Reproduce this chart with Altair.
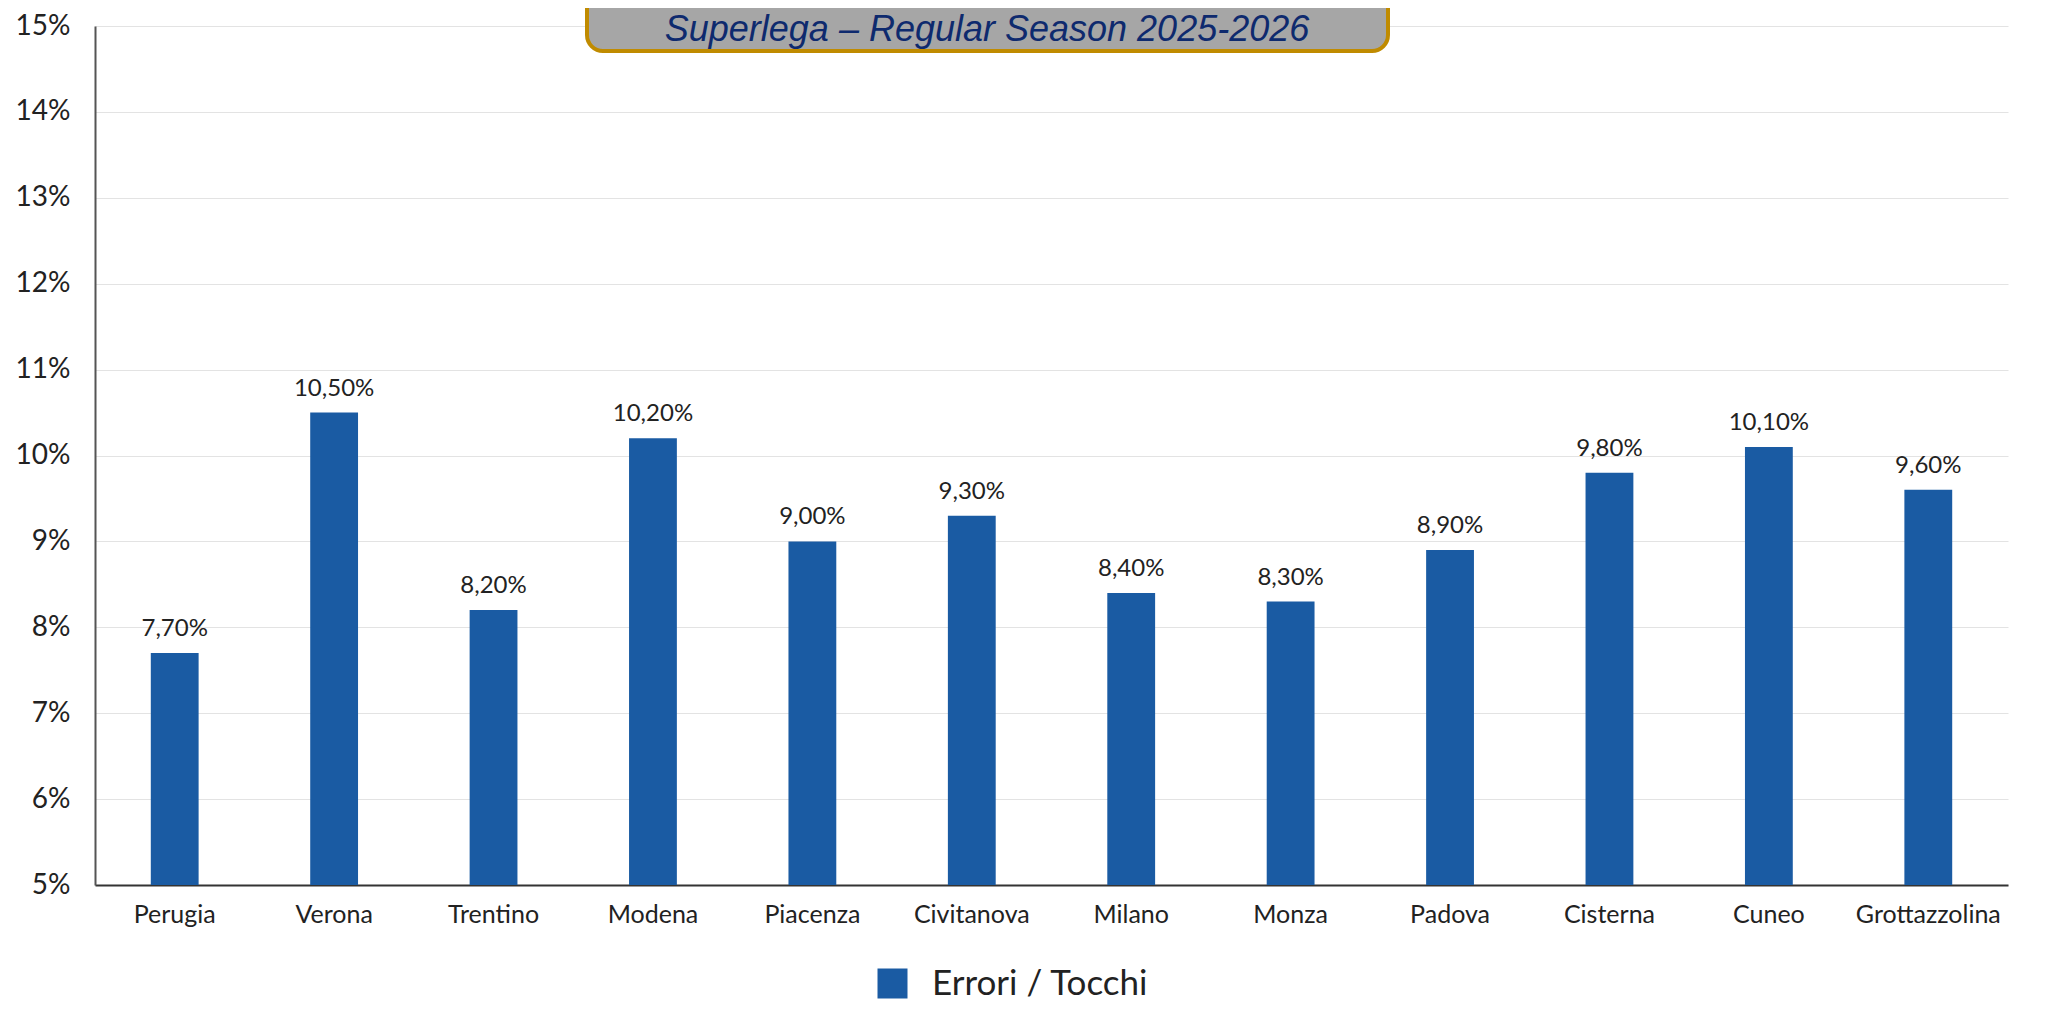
import altair as alt
import pandas as pd

teams = ["Perugia", "Verona", "Trentino", "Modena", "Piacenza", "Civitanova",
         "Milano", "Monza", "Padova", "Cisterna", "Cuneo", "Grottazzolina"]
values = [7.7, 10.5, 8.2, 10.2, 9.0, 9.3, 8.4, 8.3, 8.9, 9.8, 10.1, 9.6]
series_name = "Errori / Tocchi"
title_text = "Superlega – Regular Season 2025-2026"
y_ticks = [5, 6, 7, 8, 9, 10, 11, 12, 13, 14, 15]

df = pd.DataFrame({
    "team": teams,
    "value": values,
    "label": [f"{v:.2f}".replace(".", ",") + "%" for v in values],
    "series": [series_name] * len(teams),
})

W, H = 1913, 859
FONT = "Lato"
BLUE = "#1A5BA3"

x_enc = alt.X("team:N", sort=teams,
              scale=alt.Scale(paddingInner=0.7, paddingOuter=0.35),
              axis=alt.Axis(title=None, labelAngle=0, ticks=False, labelPadding=17,
                            labelFontSize=25, labelFont=FONT, labelColor="#222222",
                            domainColor="#333333", domainWidth=2, grid=False))
y_enc = alt.Y("value:Q",
              scale=alt.Scale(domain=[5, 15], nice=False, zero=False),
              axis=alt.Axis(title=None, values=y_ticks, labelExpr="datum.value + '%'",
                            ticks=False, labelPadding=25, labelFontSize=28, labelFont=FONT,
                            labelColor="#222222", domainColor="#555555", domainWidth=2,
                            grid=True, gridColor="#E3E3E3", gridWidth=1))

bars = alt.Chart(df).mark_bar(color=BLUE, clip=True).encode(
    x=x_enc, y=y_enc,
    color=alt.Color("series:N", scale=alt.Scale(range=[BLUE]),
                    legend=alt.Legend(title=None, orient="none", legendX=780, legendY=940,
                                      symbolType="square", symbolSize=900,
                                      symbolStrokeWidth=0, labelFontSize=35,
                                      labelFont=FONT, labelColor="#222222",
                                      labelOffset=22, labelLimit=0, padding=0)),
)

labels = alt.Chart(df).mark_text(baseline="bottom", dy=-12, fontSize=24, font=FONT,
                                 color="#222222").encode(
    x=alt.X("team:N", sort=teams), y="value:Q", text="label:N")

title_df = pd.DataFrame({"t": [title_text]})
box = alt.Chart(title_df).mark_rect(fill="#A6A6A6", stroke="#C08B00", strokeWidth=4,
                                   cornerRadius=16, clip=False).encode(
    x=alt.value(492), x2=alt.value(1293), y=alt.value(-44), y2=alt.value(25))
title = alt.Chart(title_df).mark_text(font="Liberation Sans", fontStyle="italic", fontSize=36,
                                      color="#0E2A6E", align="center",
                                      baseline="alphabetic").encode(
    x=alt.value(892), y=alt.value(15), text="t:N")

chart = alt.layer(bars, labels, box, title).properties(
    width=W, height=H,
    autosize=alt.AutoSizeParams(type="none"),
    padding={"left": 87, "top": 18, "right": 40, "bottom": 128},
    background="white",
).configure_view(stroke=None)

chart.save("out.html", embed_options={"renderer": "svg", "actions": False})
